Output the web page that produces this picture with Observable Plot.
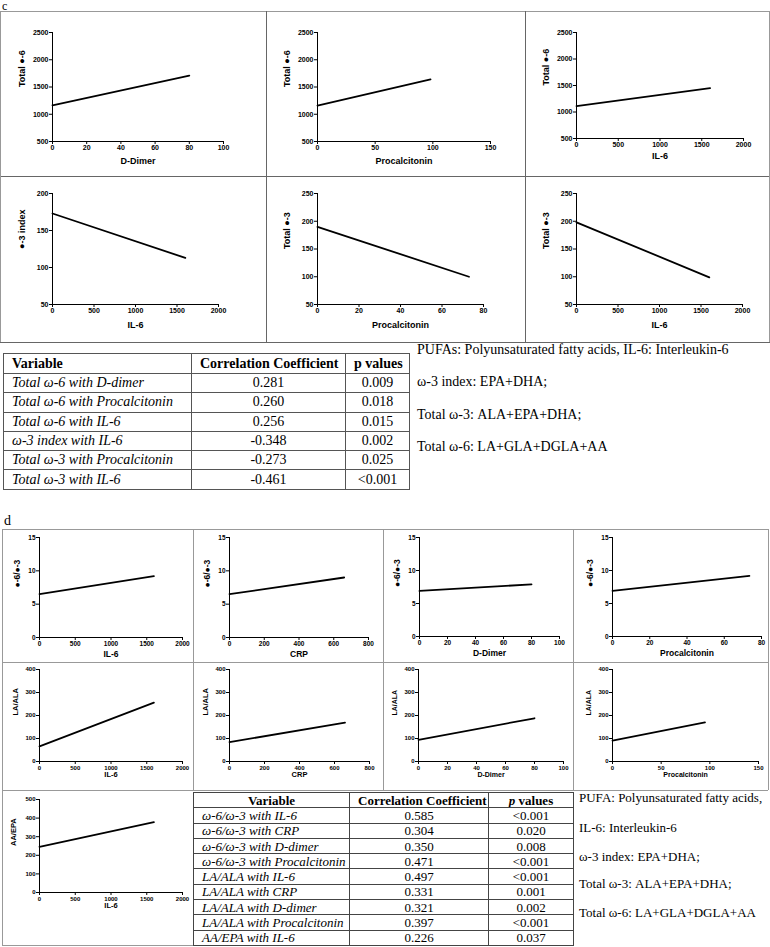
<!DOCTYPE html>
<html><head><meta charset="utf-8">
<script src="https://cdn.jsdelivr.net/npm/d3@7"></script>
<script src="https://cdn.jsdelivr.net/npm/@observablehq/plot@0.6"></script>
<style>
body{margin:0;background:#fff;}
#root{position:relative;width:770px;height:947px;overflow:hidden;font-family:"Liberation Serif","Times New Roman",serif;color:#000;}
.abs{position:absolute;}
.ln{position:absolute;}
table{border-collapse:collapse;table-layout:fixed;position:absolute;}
td{padding:0 8px;white-space:nowrap;overflow:hidden;}
</style></head>
<body><div id="root"></div>
<script>
// ---------- DATA: panel c ----------
const cXLabels = ["D-Dimer","Procalcitonin","IL-6","IL-6","Procalcitonin","IL-6"];
const cYLabels = ["Total ●-6","Total ●-6","Total ●-6","●-3 index","Total ●-3","Total ●-3"];
const cXDomains = [[0,100],[0,150],[0,2000],[0,2000],[0,80],[0,2000]];
const cYDomains = [[500,2500],[500,2500],[500,2500],[50,200],[50,250],[50,250]];
const cXTicks = [[0,20,40,60,80,100],[0,50,100,150],[0,500,1000,1500,2000],[0,500,1000,1500,2000],[0,20,40,60,80],[0,500,1000,1500,2000]];
const cYTicks = [[500,1000,1500,2000,2500],[500,1000,1500,2000,2500],[500,1000,1500,2000,2500],[50,100,150,200],[50,100,150,200,250],[50,100,150,200,250]];
const cLineX = [[0,80],[0,98],[0,1600],[0,1600],[0,73],[0,1600]];
const cLineY = [[1165,1710],[1160,1640],[1110,1450],[173,113],[190,100],[198,99]];

const tableCVariables = ["Total ω-6 with D-dimer","Total ω-6 with Procalcitonin","Total ω-6 with IL-6","ω-3 index with IL-6","Total ω-3 with Procalcitonin","Total ω-3 with IL-6"];
const tableCCoef = ["0.281","0.260","0.256","-0.348","-0.273","-0.461"];
const tableCP = ["0.009","0.018","0.015","0.002","0.025","<0.001"];
const notesC = ["PUFAs: Polyunsaturated fatty acids, IL-6: Interleukin-6","ω-3 index: EPA+DHA;","Total ω-3: ALA+EPA+DHA;","Total ω-6: LA+GLA+DGLA+AA"];

// ---------- DATA: panel d ----------
const dXLabels = ["IL-6","CRP","D-Dimer","Procalcitonin","IL-6","CRP","D-Dimer","Procalcitonin","IL-6"];
const dYLabels = ["●-6/●-3","●-6/●-3","●-6/●-3","●-6/●-3","LA/ALA","LA/ALA","LA/ALA","LA/ALA","AA/EPA"];
const dXDomains = [[0,2000],[0,800],[0,100],[0,80],[0,2000],[0,800],[0,100],[0,150],[0,2000]];
const dYDomains = [[0,15],[0,15],[0,15],[0,15],[0,400],[0,400],[0,400],[0,400],[0,500]];
const dXTicks = [[0,500,1000,1500,2000],[0,200,400,600,800],[0,20,40,60,80,100],[0,20,40,60,80],[0,500,1000,1500,2000],[0,200,400,600,800],[0,20,40,60,80,100],[0,50,100,150],[0,500,1000,1500,2000]];
const dYTicks = [[0,5,10,15],[0,5,10,15],[0,5,10,15],[0,5,10,15],[0,100,200,300,400],[0,100,200,300,400],[0,100,200,300,400],[0,100,200,300,400],[0,100,200,300,400,500]];
const dLineX = [[0,1600],[0,660],[0,80],[0,73.5],[0,1600],[0,660],[0,80],[0,95],[0,1600]];
const dLineY = [[6.5,9.2],[6.5,9.0],[6.9,7.9],[6.9,9.2],[66,256],[84,169],[94,188],[91,170],[245,378]];

const tableDVariables = ["ω-6/ω-3 with IL-6","ω-6/ω-3 with CRP","ω-6/ω-3 with D-dimer","ω-6/ω-3 with Procalcitonin","LA/ALA with IL-6","LA/ALA with CRP","LA/ALA with D-dimer","LA/ALA with Procalcitonin","AA/EPA with IL-6"];
const tableDCoef = ["0.585","0.304","0.350","0.471","0.497","0.331","0.321","0.397","0.226"];
const tableDP = ["<0.001","0.020","0.008","<0.001","<0.001","0.001","0.002","<0.001","0.037"];
const notesD = ["PUFA: Polyunsaturated fatty acids,","IL-6: Interleukin-6","ω-3 index: EPA+DHA;","Total ω-3: ALA+EPA+DHA;","Total ω-6: LA+GLA+DGLA+AA"];

// ---------- LAYOUT ----------
const cLayout = [
  {left:0,top:11,w:266,h:165,ml:52,mr:43,mt:21,mb:35,xl:22},
  {left:266,top:11,w:259,h:165,ml:51,mr:35,mt:21,mb:35,xl:22},
  {left:525,top:11,w:244,h:165,ml:51,mr:26,mt:21,mb:38,xl:20},
  {left:0,top:176,w:266,h:166,ml:52,mr:48,mt:17,mb:38,xl:23},
  {left:266,top:176,w:259,h:166,ml:51,mr:42,mt:17,mb:38,xl:23},
  {left:525,top:176,w:244,h:166,ml:51,mr:27,mt:17,mb:38,xl:23}
];
const dLayout = [
  {left:2,top:529,w:191,h:133,ml:37,mr:11,mt:8,mb:25,xl:19,yl:-22,tf:6.5,lf:8.5},
  {left:193,top:529,w:190,h:133,ml:36,mr:15,mt:8,mb:25,xl:19,yl:-22,tf:6.5,lf:8.5},
  {left:383,top:529,w:190,h:133,ml:36,mr:14,mt:8,mb:26,xl:19,yl:-22,tf:6.5,lf:8.5},
  {left:573,top:529,w:195,h:133,ml:39,mr:7,mt:8,mb:26,xl:19,yl:-22,tf:6.5,lf:8.5},
  {left:2,top:662,w:191,h:128,ml:37,mr:11,mt:7,mb:29,xl:15,yl:-24,tf:6,lf:7.5},
  {left:193,top:662,w:190,h:128,ml:36,mr:14,mt:7,mb:29,xl:15,yl:-24,tf:6,lf:7.5},
  {left:383,top:662,w:190,h:128,ml:35,mr:10,mt:7,mb:29,xl:15,yl:-24,tf:6,lf:7},
  {left:573,top:662,w:195,h:128,ml:39,mr:10,mt:7,mb:29,xl:15,yl:-24,tf:6,lf:7},
  {left:2,top:790,w:191,h:155,ml:37,mr:11,mt:9,mb:53,xl:15,yl:-26,tf:6,lf:7.5}
];

const root = document.getElementById("root");

function chart(o) {
  const pts = o.lx.map((x, i) => ({x, y: o.ly[i]}));
  const svg = Plot.plot({
    width: o.w, height: o.h,
    marginLeft: o.ml, marginRight: o.mr, marginTop: o.mt, marginBottom: o.mb,
    x: {domain: o.xDomain}, y: {domain: o.yDomain},
    style: {fontFamily: "'Liberation Sans', Arial, sans-serif", fontWeight: "bold", fontSize: o.tf + "px", background: "none", overflow: "visible"},
    marks: [
      Plot.ruleX([o.xDomain[0]], {stroke: "#000", strokeWidth: 1}),
      Plot.ruleY([o.yDomain[0]], {stroke: "#000", strokeWidth: 1}),
      Plot.axisX(o.xTicks, {tickSize: 3, tickPadding: 1, tickFormat: d => String(d), label: null, fontSize: o.tf, fontWeight: "bold"}),
      Plot.axisY(o.yTicks, {tickSize: 3, tickPadding: 1, tickFormat: d => String(d), label: null, fontSize: o.tf, fontWeight: "bold"}),
      Plot.line(pts, {x: "x", y: "y", stroke: "#000", strokeWidth: 1.8}),
      Plot.text([o.xLabel], {frameAnchor: "bottom", dy: o.xl, text: d => d, fontSize: o.lf, fontWeight: "bold"}),
      Plot.text([o.yLabel], {frameAnchor: "left", dx: o.yl, rotate: -90, text: d => d, fontSize: o.lf, fontWeight: "bold"})
    ]
  });
  svg.style.position = "absolute";
  svg.style.left = o.left + "px";
  svg.style.top = o.top + "px";
  svg.style.maxWidth = "none";
  root.appendChild(svg);
}

function hline(x1, x2, y, c) {
  const d = document.createElement("div");
  d.className = "ln";
  Object.assign(d.style, {left: x1 + "px", top: y + "px", width: (x2 - x1) + "px", height: "1px", background: c});
  root.appendChild(d);
}
function vline(x, y1, y2, c) {
  const d = document.createElement("div");
  d.className = "ln";
  Object.assign(d.style, {left: x + "px", top: y1 + "px", width: "1px", height: (y2 - y1) + "px", background: c});
  root.appendChild(d);
}
function text(str, x, y, fs, extra) {
  const d = document.createElement("div");
  d.className = "abs";
  d.textContent = str;
  Object.assign(d.style, {left: x + "px", top: y + "px", fontSize: fs + "px", lineHeight: "1", whiteSpace: "nowrap"}, extra || {});
  root.appendChild(d);
}

// panel c borders
const cb = "#666";
hline(0, 770, 11, "#999"); hline(0, 770, 176, cb); hline(0, 770, 342, cb);
vline(0, 11, 342, "#999"); vline(266, 11, 342, cb); vline(525, 11, 342, cb); vline(769, 11, 342, "#999");

// panel d borders
const db = "#999";
hline(2, 768, 529, db); hline(2, 768, 662, db); hline(2, 768, 790, db); hline(2, 193, 945, db);
vline(2, 529, 946, db); vline(193, 529, 790, db); vline(383, 529, 790, db); vline(573, 529, 790, db); vline(768, 529, 790, db);

text("c", 2, 0, 12);
text("d", 4, 514, 14);

cLayout.forEach((l, i) => chart({...l, tf: 7, lf: 9, yl: -30,
  xDomain: cXDomains[i], yDomain: cYDomains[i], xTicks: cXTicks[i], yTicks: cYTicks[i],
  lx: cLineX[i], ly: cLineY[i], xLabel: cXLabels[i], yLabel: cYLabels[i]}));
dLayout.forEach((l, i) => chart({...l,
  xDomain: dXDomains[i], yDomain: dYDomains[i], xTicks: dXTicks[i], yTicks: dYTicks[i],
  lx: dLineX[i], ly: dLineY[i], xLabel: dXLabels[i], yLabel: dYLabels[i]}));

function makeTable(opts) {
  const t = document.createElement("table");
  Object.assign(t.style, {left: opts.left + "px", top: opts.top + "px", width: opts.width + "px", fontSize: opts.fs + "px"});
  const cg = document.createElement("colgroup");
  opts.cols.forEach(w => { const c = document.createElement("col"); c.style.width = w + "px"; cg.appendChild(c); });
  t.appendChild(cg);
  const hr = document.createElement("tr");
  hr.style.height = opts.hh + "px";
  opts.header.forEach((h, j) => {
    const td = document.createElement("td");
    td.innerHTML = h;
    Object.assign(td.style, {fontWeight: "bold", textAlign: j === 0 ? opts.h0align : "center", border: "1px solid " + opts.bc, lineHeight: "1"});
    hr.appendChild(td);
  });
  t.appendChild(hr);
  opts.rows.forEach(r => {
    const tr = document.createElement("tr");
    tr.style.height = opts.rh + "px";
    r.forEach((v, j) => {
      const td = document.createElement("td");
      td.textContent = v;
      Object.assign(td.style, {fontStyle: j === 0 ? "italic" : "normal", textAlign: j === 0 ? "left" : "center", border: "1px solid " + opts.bc, lineHeight: "1"});
      tr.appendChild(td);
    });
    t.appendChild(tr);
  });
  root.appendChild(t);
}

makeTable({left: 3, top: 353, width: 406, fs: 14, cols: [188, 154, 64], hh: 20, rh: 19.3, bc: "#555", h0align: "left",
  header: ["Variable", "Correlation Coefficient", "p values"],
  rows: tableCVariables.map((v, i) => [v, tableCCoef[i], tableCP[i]])});

makeTable({left: 193, top: 792, width: 380, fs: 13, cols: [156, 139, 85], hh: 15.3, rh: 15.3, bc: "#444", h0align: "center",
  header: ["Variable", "Correlation Coefficient", "<i>p</i> values"],
  rows: tableDVariables.map((v, i) => [v, tableDCoef[i], tableDP[i]])});

const notesCY = [343, 375, 408, 440];
notesC.forEach((s, i) => text(s, 417, notesCY[i], 14));
const notesDY = [791, 821, 850, 877, 906];
notesD.forEach((s, i) => text(s, 579, notesDY[i], 13));
</script>
</body></html>
